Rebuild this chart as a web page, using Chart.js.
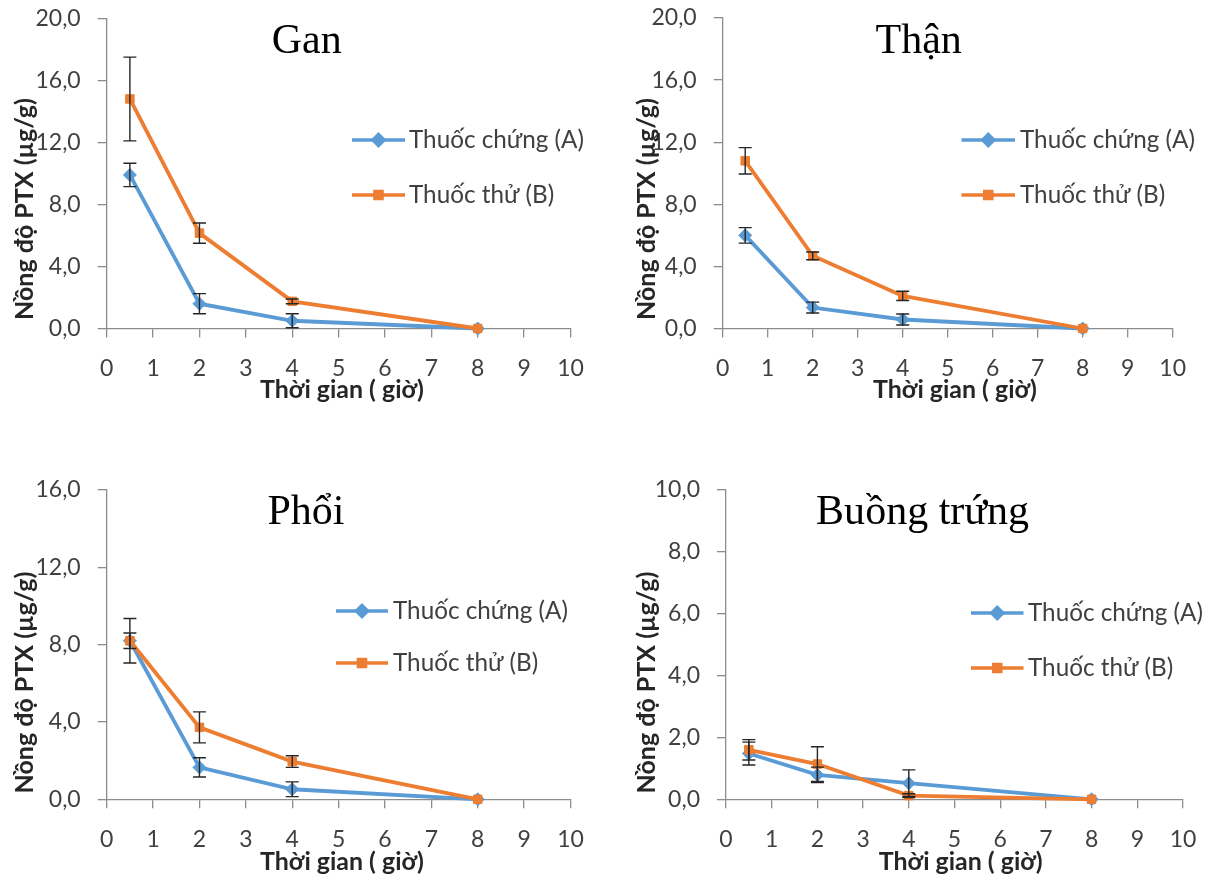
<!DOCTYPE html>
<html><head><meta charset="utf-8">
<script src="https://cdn.jsdelivr.net/npm/chart.js@4.4.1/dist/chart.umd.min.js"></script>
<style>
html,body{margin:0;padding:0;background:#fff;}
#wrap{position:relative;width:1219px;height:879px;overflow:hidden;}
canvas{position:absolute;}
</style></head><body>
<div id="wrap">
<canvas id="c1" width="610" height="440" style="left:0;top:0"></canvas>
<canvas id="c2" width="609" height="440" style="left:610px;top:0"></canvas>
<canvas id="c3" width="610" height="439" style="left:0;top:440px"></canvas>
<canvas id="c4" width="609" height="439" style="left:610px;top:440px"></canvas>
</div>
<script>
// ---------- data ----------
const times = [0.5, 2, 4, 8];
const xTickValues = [0, 1, 2, 3, 4, 5, 6, 7, 8, 9, 10];
const seriesNames = ['Thuốc chứng (A)', 'Thuốc thử (B)'];
const panelTitles = ['Gan', 'Thận', 'Phổi', 'Buồng trứng'];
const yAxisTitle = 'Nồng độ PTX (µg/g)';
const xAxisTitle = 'Thời gian ( giờ)';

const yTicksGan  = [0, 4, 8, 12, 16, 20];
const yTicksThan = [0, 4, 8, 12, 16, 20];
const yTicksPhoi = [0, 4, 8, 12, 16];
const yTicksBT   = [0, 2, 4, 6, 8, 10];

const ganA = [9.9, 1.6, 0.5, 0];     const ganAErr = [0.75, 0.65, 0.45, 0];
const ganB = [14.8, 6.15, 1.75, 0];  const ganBErr = [2.7, 0.65, 0.15, 0];
const thanA = [6.0, 1.35, 0.58, 0];  const thanAErr = [0.5, 0.35, 0.35, 0];
const thanB = [10.8, 4.68, 2.1, 0];  const thanBErr = [0.85, 0.25, 0.3, 0];
const phoiA = [8.2, 1.65, 0.52, 0];  const phoiAErr = [0.4, 0.5, 0.38, 0];
const phoiB = [8.2, 3.72, 1.95, 0];  const phoiBErr = [1.15, 0.8, 0.3, 0];
const btA = [1.48, 0.79, 0.52, 0];   const btAErr = [0.37, 0.25, 0.43, 0];
const btB = [1.6, 1.14, 0.12, 0];    const btBErr = [0.33, 0.56, 0.06, 0];

// ---------- styles ----------
const BLUE = '#5B9BD5', ORANGE = '#ED7D31', AXIS = '#8c8c8c', TXT = '#404040';
const SANS = 'Lato, "Open Sans", sans-serif';
const SERIF = '"Liberation Serif", "Times New Roman", serif';

function fitFont(ctx, text, weight, family, target) {
  ctx.font = weight + ' 100px ' + family;
  const w = ctx.measureText(text).width;
  return weight + ' ' + (100 * target / w).toFixed(2) + 'px ' + family;
}

const decor = {
  id: 'decor',
  afterDatasetsDraw(chart) {
    const o = chart.options.plugins.decor;
    const ctx = chart.ctx, xs = chart.scales.x, ys = chart.scales.y;
    ctx.save();
    ctx.strokeStyle = '#262626';
    ctx.lineWidth = 1.4;
    o.errs.forEach((errs, di) => {
      const vals = chart.data.datasets[di].data;
      vals.forEach((p, i) => {
        const e = errs[i];
        if (!e) return;
        const x = xs.getPixelForValue(p.x);
        const y1 = ys.getPixelForValue(p.y + e);
        const y2 = ys.getPixelForValue(Math.max(p.y - e, 0));
        ctx.beginPath();
        ctx.moveTo(x, y1); ctx.lineTo(x, y2);
        ctx.moveTo(x - 6.5, y1); ctx.lineTo(x + 6.5, y1);
        ctx.moveTo(x - 6.5, y2); ctx.lineTo(x + 6.5, y2);
        ctx.stroke();
      });
    });
    ctx.restore();
  },
  afterDraw(chart) {
    const o = chart.options.plugins.decor;
    const ctx = chart.ctx;
    ctx.save();
    // title
    ctx.fillStyle = '#000';
    ctx.font = fitFont(ctx, 'Gan', 'normal', SERIF, 70);
    ctx.textAlign = 'center';
    ctx.textBaseline = 'alphabetic';
    ctx.fillText(o.title, o.titleX, o.titleY);
    // legend
    const legFont = fitFont(ctx, seriesNames[0], 'normal', SANS, 175);
    chart.data.datasets.forEach((ds, i) => {
      const y = o.legY[i];
      ctx.strokeStyle = ds.borderColor;
      ctx.lineWidth = 3.5;
      ctx.beginPath(); ctx.moveTo(o.legX1, y); ctx.lineTo(o.legX2, y); ctx.stroke();
      ctx.fillStyle = ds.backgroundColor;
      ctx.strokeStyle = ds.borderColor;
      Chart.helpers.drawPoint(ctx, {pointStyle: ds.pointStyle, radius: i === 0 ? 5.5 : 5, rotation: 0, borderWidth: 1}, (o.legX1 + o.legX2) / 2, y);
      ctx.fillStyle = TXT;
      ctx.font = legFont;
      ctx.textAlign = 'left';
      ctx.textBaseline = 'middle';
      ctx.fillText(ds.label, o.legTX, y);
    });
    // y axis title
    ctx.fillStyle = '#262626';
    ctx.font = fitFont(ctx, yAxisTitle, 'bold', SANS, 222);
    ctx.textAlign = 'center';
    ctx.textBaseline = 'middle';
    ctx.save();
    ctx.translate(o.yTitleX, o.yTitleY);
    ctx.rotate(-Math.PI / 2);
    ctx.fillText(yAxisTitle, 0, 0);
    ctx.restore();
    // x axis title
    ctx.font = fitFont(ctx, xAxisTitle, 'bold', SANS, 164);
    ctx.fillText(xAxisTitle, o.xTitleX, o.xTitleY);
    ctx.restore();
  }
};

function pts(v) { return times.map((t, i) => ({x: t, y: v[i]})); }

function makeChart(id, p) {
  const canvas = document.getElementById(id);
  const W = canvas.width, H = canvas.height;
  return new Chart(canvas, {
    type: 'scatter',
    data: {
      datasets: [
        {label: seriesNames[0], data: pts(p.A), showLine: true, borderColor: BLUE, backgroundColor: BLUE,
         borderWidth: 3.8, pointStyle: 'rectRot', pointRadius: 6.5, pointBorderWidth: 1, order: 1, clip: false},
        {label: seriesNames[1], data: pts(p.B), showLine: true, borderColor: ORANGE, backgroundColor: ORANGE,
         borderWidth: 3.8, pointStyle: 'rect', pointRadius: 6, pointBorderWidth: 1, order: 0, clip: false}
      ]
    },
    options: {
      responsive: false, animation: false, devicePixelRatio: 1,
      layout: {padding: {left: 0, top: p.top, right: W - p.right, bottom: 0}},
      plugins: {
        legend: {display: false}, tooltip: {enabled: false}, title: {display: false},
        decor: Object.assign({errs: [p.AErr, p.BErr]}, p.deco)
      },
      scales: {
        x: {
          type: 'linear', min: 0, max: 10,
          afterFit: s => { s.height = H - p.bottom; s.paddingLeft = 0; s.paddingRight = 0; },
          afterBuildTicks: s => { s.ticks = xTickValues.map(v => ({value: v})); },
          grid: {display: true, drawOnChartArea: false, drawTicks: true, tickLength: 9, color: AXIS, lineWidth: 1.3},
          border: {display: true, color: AXIS, width: 1.3},
          ticks: {color: TXT, font: {family: SANS, size: 23}, padding: 17, maxRotation: 0, autoSkip: false,
                  callback: v => String(v)}
        },
        y: {
          type: 'linear', min: p.yTicks[0], max: p.yTicks[p.yTicks.length - 1],
          afterFit: s => { s.width = p.left; s.paddingTop = 0; s.paddingBottom = 0; },
          afterBuildTicks: s => { s.ticks = p.yTicks.map(v => ({value: v})); },
          grid: {display: true, drawOnChartArea: false, drawTicks: true, tickLength: 9, color: AXIS, lineWidth: 1.3},
          border: {display: true, color: AXIS, width: 1.3},
          ticks: {color: TXT, font: {family: SANS, size: 23}, padding: 17, autoSkip: false,
                  callback: v => v.toFixed(1).replace('.', ',')}
        }
      }
    },
    plugins: [decor]
  });
}

makeChart('c1', {A: ganA, AErr: ganAErr, B: ganB, BErr: ganBErr, yTicks: yTicksGan,
  left: 106.7, right: 570.5, top: 18.3, bottom: 328.5,
  deco: {title: panelTitles[0], titleX: 306.7, titleY: 53, legX1: 352, legX2: 405, legTX: 409, legY: [140, 195],
         yTitleX: 25, yTitleY: 209, xTitleX: 342, xTitleY: 390}});
makeChart('c2', {A: thanA, AErr: thanAErr, B: thanB, BErr: thanBErr, yTicks: yTicksThan,
  left: 112.7, right: 562.7, top: 18, bottom: 328.5,
  deco: {title: panelTitles[1], titleX: 308.7, titleY: 53, legX1: 351.5, legX2: 405, legTX: 410, legY: [140, 195],
         yTitleX: 37, yTitleY: 209, xTitleX: 345, xTitleY: 390}});
makeChart('c3', {A: phoiA, AErr: phoiAErr, B: phoiB, BErr: phoiBErr, yTicks: yTicksPhoi,
  left: 106.7, right: 570.5, top: 50, bottom: 359.3,
  deco: {title: panelTitles[2], titleX: 306, titleY: 84, legX1: 336, legX2: 388, legTX: 393, legY: [171, 223],
         yTitleX: 25, yTitleY: 242.5, xTitleX: 342, xTitleY: 421.7}});
makeChart('c4', {A: btA, AErr: btAErr, B: btB, BErr: btBErr, yTicks: yTicksBT,
  left: 116, right: 573, top: 50, bottom: 359.3,
  deco: {title: panelTitles[3], titleX: 312.6, titleY: 84, legX1: 361, legX2: 413.5, legTX: 418, legY: [173, 228],
         yTitleX: 37, yTitleY: 242.5, xTitleX: 350.7, xTitleY: 421.7}});
</script>
</body></html>
